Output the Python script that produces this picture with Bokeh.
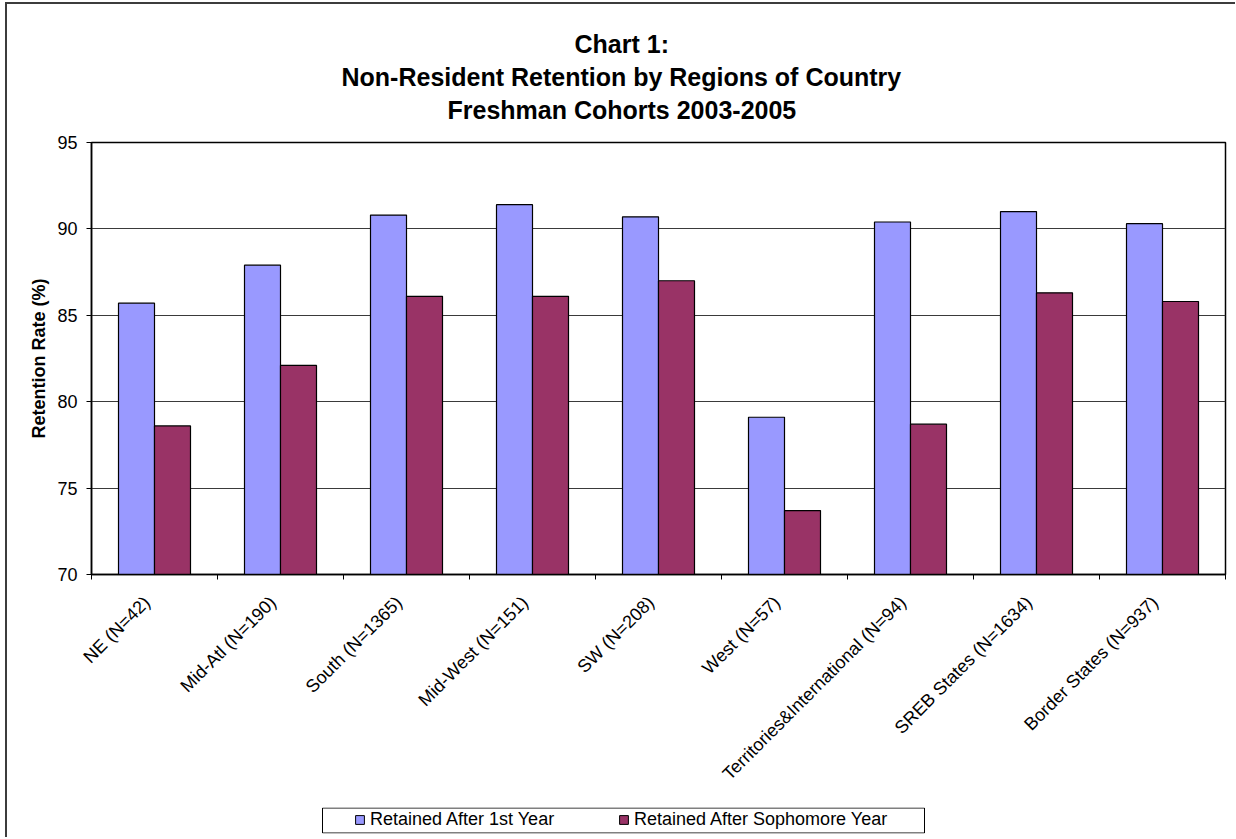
import numpy as np
from bokeh.plotting import figure
from bokeh.layouts import column
from bokeh.models import (ColumnDataSource, FixedTicker, Legend, LegendItem,
                          Title, Range1d, BoxAnnotation)
from bokeh.transform import dodge
from bokeh.embed import file_html
from bokeh.resources import INLINE

# ---------------- data ----------------
categories = [
    "NE (N=42)",
    "Mid-Atl (N=190)",
    "South (N=1365)",
    "Mid-West (N=151)",
    "SW (N=208)",
    "West (N=57)",
    "Territories&International (N=94)",
    "SREB States (N=1634)",
    "Border States (N=937)",
]
retained_1st_year = [85.7, 87.9, 90.8, 91.4, 90.7, 79.1, 90.4, 91.0, 90.3]
retained_sophomore = [78.6, 82.1, 86.1, 86.1, 87.0, 73.7, 78.7, 86.3, 85.8]
series_names = ["Retained After 1st Year", "Retained After Sophomore Year"]
y_ticks = [70, 75, 80, 85, 90, 95]
title_lines = [
    "Chart 1:",
    "Non-Resident Retention by Regions of Country",
    "Freshman Cohorts 2003-2005",
]
y_axis_label = "Retention Rate (%)"

# ---------------- style ----------------
FONT = "Liberation Sans"
BLUE = "#9999FF"
MAROON = "#993366"
bar_w = 0.2857
label_shift = -0.06              # small visual nudge of the rotated category labels
title_offsets = [483, 250, 356]  # left offsets (px) of the three title lines
BORDER_L, BORDER_R = 84, 10

n = len(categories)
centers = [float(i) + 0.5 for i in range(n)]
src = ColumnDataSource(dict(x=centers, first=retained_1st_year, soph=retained_sophomore))

p = figure(width=1228, height=802,
           x_range=Range1d(0, n), y_range=Range1d(y_ticks[0], y_ticks[-1]),
           output_backend="svg", toolbar_location=None,
           min_border_left=BORDER_L, min_border_right=BORDER_R,
           min_border_top=138, min_border_bottom=232)
p.title.text = ""
p.background_fill_color = "white"
p.border_fill_color = "white"
p.outline_line_color = "black"
p.outline_line_width = 1.5

r1 = p.vbar(x=dodge("x", -bar_w / 2, range=p.x_range), top="first", bottom=y_ticks[0],
            width=bar_w, fill_color=BLUE, line_color="black", line_width=1.2, source=src)
r2 = p.vbar(x=dodge("x", bar_w / 2, range=p.x_range), top="soph", bottom=y_ticks[0],
            width=bar_w, fill_color=MAROON, line_color="black", line_width=1.2, source=src)

# x axis: labels near category centres, tick marks at category boundaries
label_pos = [c + label_shift for c in centers]
xa = p.xaxis[0]
xa.ticker = FixedTicker(ticks=label_pos, minor_ticks=[float(i) for i in range(n + 1)])
xa.major_label_overrides = {lp: lab for lp, lab in zip(label_pos, categories)}
xa.major_label_orientation = np.pi / 4
xa.major_tick_line_color = None
xa.major_tick_out = 0
xa.major_tick_in = 0
xa.minor_tick_line_color = "black"
xa.minor_tick_out = 5
xa.minor_tick_in = 0
xa.major_label_standoff = 20
xa.major_label_text_font = FONT
xa.major_label_text_font_size = "18px"
xa.major_label_text_color = "black"
xa.axis_line_color = "black"
xa.axis_line_width = 1.5

ya = p.yaxis[0]
ya.ticker = FixedTicker(ticks=y_ticks)
ya.major_tick_out = 5
ya.major_tick_in = 0
ya.minor_tick_line_color = None
ya.major_tick_line_color = "black"
ya.major_label_standoff = 9
ya.major_label_text_font = FONT
ya.major_label_text_font_size = "18px"
ya.major_label_text_color = "black"
ya.axis_line_color = "black"
ya.axis_line_width = 1.5
ya.axis_label = y_axis_label
ya.axis_label_text_font = FONT
ya.axis_label_text_font_style = "bold"
ya.axis_label_text_font_size = "18px"
ya.axis_label_text_color = "black"
ya.axis_label_standoff = 5

p.xgrid.visible = False
p.ygrid.grid_line_color = "#3a3a3a"
p.ygrid.grid_line_width = 1

# title: spacer first (closest to frame), then lines from bottom to top
p.add_layout(Title(text=" ", text_font_size="12px", standoff=0), "above")
for txt, off in reversed(list(zip(title_lines, title_offsets))):
    p.add_layout(Title(text=txt, align="left", offset=off, vertical_align="middle",
                       standoff=3, text_font=FONT, text_font_size="25px",
                       text_font_style="bold", text_color="black"), "above")

# legend strip below the chart
lf = figure(width=1228, height=31, x_range=Range1d(0, 1), y_range=Range1d(0, 1),
            x_axis_type=None, y_axis_type=None,
            output_backend="svg", toolbar_location=None,
            min_border_left=BORDER_L, min_border_right=BORDER_R,
            min_border_top=1, min_border_bottom=4)
lf.title.text = ""
lf.outline_line_color = None
lf.background_fill_color = "white"
lf.border_fill_color = "white"
# legend keys: renderers with no drawable bar (NaN), only their swatches show
key_src = ColumnDataSource(dict(x=np.array([np.nan]), top=np.array([np.nan])))
k1 = lf.vbar(x="x", top="top", width=0.1, fill_color=BLUE,
             line_color="black", source=key_src)
k2 = lf.vbar(x="x", top="top", width=0.1, fill_color=MAROON,
             line_color="black", source=key_src)
lf.add_layout(BoxAnnotation(left=231, right=833, bottom=0.5, top=25.5,
                            left_units="screen", right_units="screen",
                            bottom_units="screen", top_units="screen",
                            fill_alpha=0, line_color="black", line_width=1, line_alpha=1))
for rend, name, xloc in zip([k1, k2], series_names, [263, 527]):
    lf.add_layout(Legend(items=[LegendItem(label=name, renderers=[rend])],
                         location=(xloc, 3), orientation="horizontal",
                         border_line_color=None, background_fill_alpha=0,
                         padding=0, margin=0, spacing=0,
                         glyph_width=11, glyph_height=11, label_standoff=5,
                         label_height=20, label_text_font=FONT,
                         label_text_font_size="18px", label_text_color="black"))

layout = column(p, lf, spacing=0,
                styles={"margin-left": "5px", "margin-top": "2px",
                        "border-left": "2px solid #3c3c3c",
                        "border-top": "2px solid #3c3c3c"})

open("out.html", "w").write(file_html(layout, INLINE))
